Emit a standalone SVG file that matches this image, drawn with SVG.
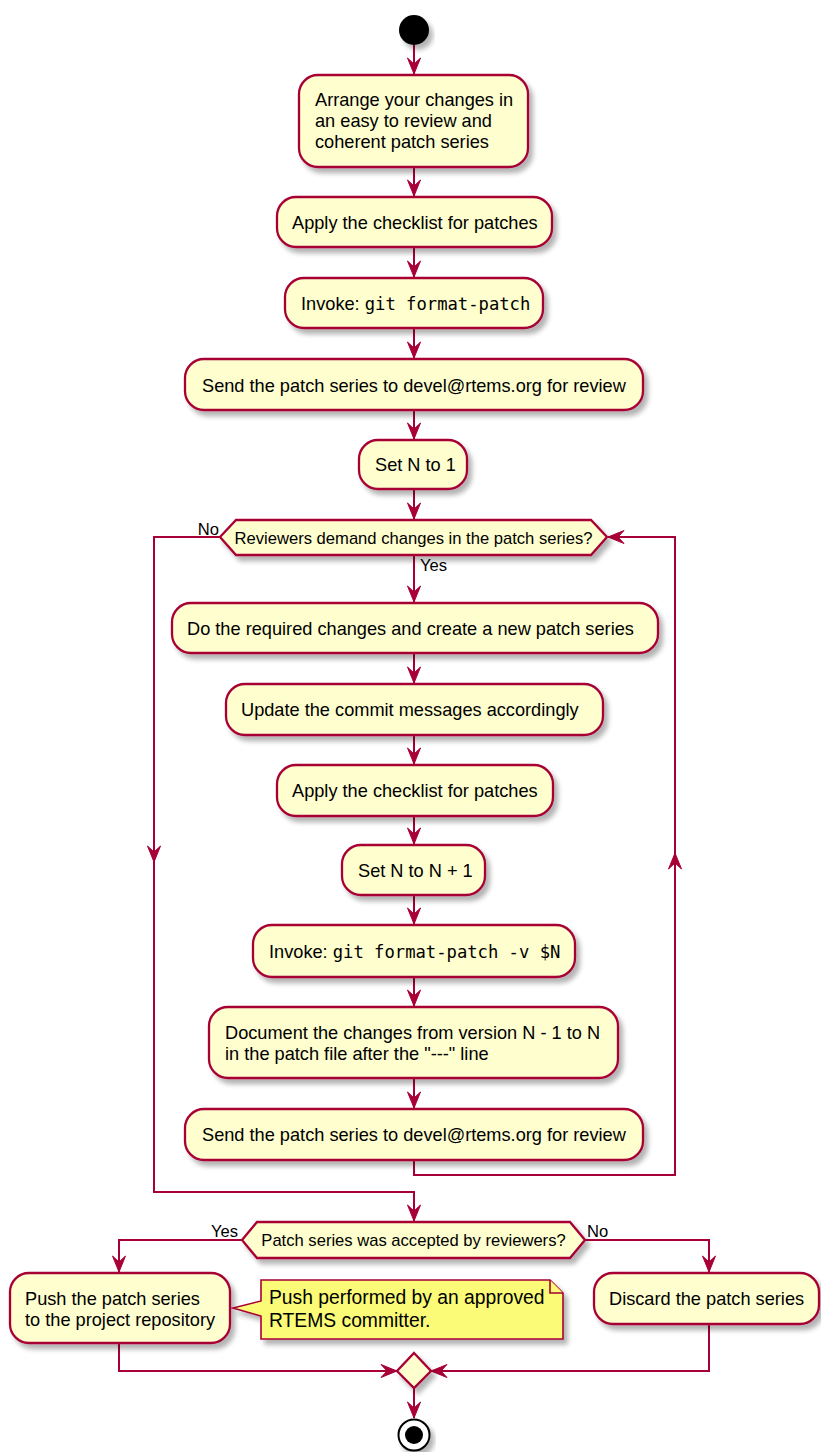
<svg xmlns="http://www.w3.org/2000/svg" width="821" height="1452" viewBox="0 0 821 1452">
<style>
.act{fill:#FEFECE;stroke:#A80036;stroke-width:2.3}
.note{fill:#FBFB77;stroke:#A80036;stroke-width:1.6}
.t{font-family:"Liberation Sans",Arial,sans-serif;font-size:18.2px;fill:#000}
.m{font-family:"DejaVu Sans Mono",monospace;font-size:17.2px}
.d{font-family:"Liberation Sans",Arial,sans-serif;font-size:16.6px;fill:#000}
.n{font-family:"Liberation Sans",Arial,sans-serif;font-size:19.3px;fill:#000}
.c{fill:none;stroke:#A80036;stroke-width:2}
</style>
<defs>
<filter id="sh" x="-10%" y="-20%" width="130%" height="160%">
<feGaussianBlur in="SourceAlpha" stdDeviation="2.5"/>
<feOffset dx="4" dy="5"/>
<feComponentTransfer><feFuncA type="linear" slope="0.3"/></feComponentTransfer>
<feMerge><feMergeNode/><feMergeNode in="SourceGraphic"/></feMerge>
</filter>
<marker id="ah" markerUnits="userSpaceOnUse" viewBox="-17 -8 18 16" markerWidth="18" markerHeight="16" refX="0" refY="0" orient="auto">
<path d="M0,0 L-16,-6.5 L-10,0 L-16,6.5 Z" fill="#A80036" stroke="#A80036" stroke-width="1"/>
</marker>
</defs>

<g id="connectors">
<path class="c" d="M414,45 V74" marker-end="url(#ah)"/>
<path class="c" d="M414,167 V196" marker-end="url(#ah)"/>
<path class="c" d="M414,247 V277" marker-end="url(#ah)"/>
<path class="c" d="M414,328 V358" marker-end="url(#ah)"/>
<path class="c" d="M414,410 V439" marker-end="url(#ah)"/>
<path class="c" d="M414,489 V519" marker-end="url(#ah)"/>
<path class="c" d="M414,555 V602" marker-end="url(#ah)"/>
<path class="c" d="M414,653 V683" marker-end="url(#ah)"/>
<path class="c" d="M414,735 V764" marker-end="url(#ah)"/>
<path class="c" d="M414,816 V844" marker-end="url(#ah)"/>
<path class="c" d="M414,895 V924" marker-end="url(#ah)"/>
<path class="c" d="M414,977 V1006" marker-end="url(#ah)"/>
<path class="c" d="M414,1078 V1108" marker-end="url(#ah)"/>
<path class="c" d="M414,1160 V1175 H675 V853" marker-end="url(#ah)"/>
<path class="c" d="M675,853 V537 H608" marker-end="url(#ah)"/>
<path class="c" d="M220,537 H154 V862" marker-end="url(#ah)"/>
<path class="c" d="M154,862 V1192 H414 V1221" marker-end="url(#ah)"/>
<path class="c" d="M242,1240 H119 V1272" marker-end="url(#ah)"/>
<path class="c" d="M585,1240 H709 V1272" marker-end="url(#ah)"/>
<path class="c" d="M119,1343 V1371 H397" marker-end="url(#ah)"/>
<path class="c" d="M709,1324 V1371 H431" marker-end="url(#ah)"/>
<path class="c" d="M414,1388 V1418" marker-end="url(#ah)"/>
<text class="d" x="219" y="535" text-anchor="end">No</text>
<text class="d" x="420" y="571">Yes</text>
<text class="d" x="238" y="1237" text-anchor="end">Yes</text>
<text class="d" x="587" y="1237">No</text>
</g>

<g id="start"><circle cx="414" cy="30" r="15" fill="#000" filter="url(#sh)"/></g>

<g id="arrange">
<rect class="act" x="299" y="75" width="229" height="92" rx="19" filter="url(#sh)"/>
<text class="t" x="315" y="106">Arrange your changes in</text>
<text class="t" x="315" y="127">an easy to review and</text>
<text class="t" x="315" y="148">coherent patch series</text>
</g>

<g id="checklist1">
<rect class="act" x="277" y="197" width="275" height="50" rx="19" filter="url(#sh)"/>
<text class="t" x="292" y="229">Apply the checklist for patches</text>
</g>

<g id="invoke1">
<rect class="act" x="285" y="278" width="258" height="50" rx="19" filter="url(#sh)"/>
<text class="t" x="301" y="310">Invoke: <tspan class="m">git format-patch</tspan></text>
</g>

<g id="send1">
<rect class="act" x="185" y="359" width="458" height="51" rx="19" filter="url(#sh)"/>
<text class="t" x="202" y="392">Send the patch series to devel@rtems.org for review</text>
</g>

<g id="setn1">
<rect class="act" x="359" y="440" width="108" height="49" rx="19" filter="url(#sh)"/>
<text class="t" x="375" y="471">Set N to 1</text>
</g>

<g id="decision1">
<polygon class="act" points="220,537 236,520 591,520 607,537 591,555 236,555" filter="url(#sh)"/>
<text class="d" x="413.5" y="543.5" text-anchor="middle">Reviewers demand changes in the patch series?</text>
</g>

<g id="changes">
<rect class="act" x="172" y="603" width="486" height="50" rx="19" filter="url(#sh)"/>
<text class="t" x="187" y="635">Do the required changes and create a new patch series</text>
</g>

<g id="update">
<rect class="act" x="226" y="684" width="377" height="51" rx="19" filter="url(#sh)"/>
<text class="t" x="241" y="716">Update the commit messages accordingly</text>
</g>

<g id="checklist2">
<rect class="act" x="277" y="765" width="276" height="51" rx="19" filter="url(#sh)"/>
<text class="t" x="292" y="797">Apply the checklist for patches</text>
</g>

<g id="setn2">
<rect class="act" x="342" y="845" width="143" height="50" rx="19" filter="url(#sh)"/>
<text class="t" x="358" y="877">Set N to N + 1</text>
</g>

<g id="invoke2">
<rect class="act" x="253" y="925" width="322" height="52" rx="19" filter="url(#sh)"/>
<text class="t" x="269" y="958">Invoke: <tspan class="m">git format-patch -v $N</tspan></text>
</g>

<g id="document">
<rect class="act" x="209" y="1007" width="409" height="71" rx="19" filter="url(#sh)"/>
<text class="t" x="225" y="1039">Document the changes from version N - 1 to N</text>
<text class="t" x="225" y="1060">in the patch file after the "---" line</text>
</g>

<g id="send2">
<rect class="act" x="185" y="1109" width="458" height="51" rx="19" filter="url(#sh)"/>
<text class="t" x="202" y="1141">Send the patch series to devel@rtems.org for review</text>
</g>

<g id="decision2">
<polygon class="act" points="242,1240 257,1222 570,1222 585,1240 570,1258 257,1258" filter="url(#sh)"/>
<text class="d" x="413.5" y="1245.5" text-anchor="middle">Patch series was accepted by reviewers?</text>
</g>

<g id="push">
<rect class="act" x="10" y="1273" width="220" height="70" rx="19" filter="url(#sh)"/>
<text class="t" x="25" y="1305">Push the patch series</text>
<text class="t" x="25" y="1326">to the project repository</text>
</g>

<g id="note">
<path class="note" d="M261,1280 H550 L563,1293 V1339 H261 V1316 L233,1308 L261,1301 Z" filter="url(#sh)"/>
<path class="note" d="M550,1280 V1293 H563" fill="none"/>
<text class="n" x="269" y="1304">Push performed by an approved</text>
<text class="n" x="269" y="1327">RTEMS committer.</text>
</g>

<g id="discard">
<rect class="act" x="594" y="1273" width="225" height="51" rx="19" filter="url(#sh)"/>
<text class="t" x="609" y="1305">Discard the patch series</text>
</g>

<g id="merge">
<polygon class="act" points="414,1353 431,1371 414,1388 397,1371" filter="url(#sh)"/>
</g>

<g id="end">
<circle cx="414" cy="1435" r="15.5" fill="#fff" stroke="#000" stroke-width="2" filter="url(#sh)"/>
<circle cx="414" cy="1435" r="9" fill="#000"/>
</g>
</svg>
